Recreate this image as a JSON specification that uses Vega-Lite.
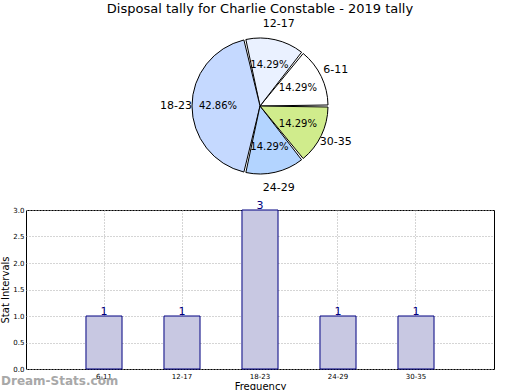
{
  "$schema": "https://vega.github.io/schema/vega-lite/v6.json",
  "padding": {"left": 0, "top": 3, "right": 5, "bottom": 0},
  "background": "white",
  "config": {
    "font": "DejaVu Sans",
    "view": {"stroke": null}
  },
  "datasets": {
    "tally": [
      {"cat": "6-11", "idx": 1, "count": 1},
      {"cat": "12-17", "idx": 2, "count": 1},
      {"cat": "18-23", "idx": 3, "count": 3},
      {"cat": "24-29", "idx": 4, "count": 1},
      {"cat": "30-35", "idx": 5, "count": 1}
    ]
  },
  "spacing": 6,
  "vconcat": [
    {
      "width": 468,
      "height": 164,
      "view": {"stroke": null},
      "title": {"text": "Disposal tally for Charlie Constable - 2019 tally", "fontSize": 13, "fontWeight": "normal", "anchor": "middle", "frame": "group", "offset": 2, "color": "black"},
      "data": {"name": "tally"},
      "transform": [
        {"joinaggregate": [{"op": "sum", "field": "count", "as": "total"}]},
        {"calculate": "format(datum.count / datum.total * 100, '.2f') + '%'", "as": "pct"}
      ],
      "encoding": {
        "theta": {"field": "count", "type": "quantitative", "stack": true, "scale": {"range": [1.5708, 7.854]}},
        "order": {"field": "idx", "type": "quantitative", "sort": "descending"}
      },
      "layer": [
        {
          "mark": {"type": "arc", "outerRadius": 68, "stroke": "black", "strokeWidth": 1, "padAngle": 0.03},
          "encoding": {
            "color": {
              "field": "cat", "type": "nominal", "legend": null,
              "scale": {"domain": ["6-11", "12-17", "18-23", "24-29", "30-35"], "range": ["#ffffff", "#eaf1ff", "#c5d9ff", "#b3d4ff", "#d0ec8c"]}
            }
          }
        },
        {
          "mark": {"type": "text", "radius": 42, "fontSize": 10, "color": "black"},
          "encoding": {"text": {"field": "pct"}}
        },
        {
          "mark": {"type": "text", "radius": 84, "fontSize": 11, "color": "black"},
          "encoding": {"text": {"field": "cat"}}
        }
      ]
    },
    {
      "width": 468,
      "height": 159,
      "view": {"stroke": "black", "strokeWidth": 1},
      "title": {"text": "Dream-Stats.com", "orient": "bottom", "anchor": "start", "frame": "group", "offset": -15, "dx": -25, "fontSize": 12, "fontWeight": "bold", "color": "#a8a8a8"},
      "data": {"name": "tally"},
      "encoding": {
        "x": {
          "field": "cat", "type": "nominal", "sort": null,
          "scale": {"paddingInner": 0.538, "paddingOuter": 0.769},
          "axis": {"title": "Frequency", "titleFontSize": 10, "titleFontWeight": "normal", "titlePadding": 2, "labelAngle": 0, "labelFontSize": 7, "labelPadding": 3, "ticks": false, "domain": false, "grid": true, "gridDash": [1, 2], "gridColor": "#aaaaaa", "bandPosition": 0.5, "labelColor": "black", "titleColor": "black"}
        },
        "y": {
          "field": "count", "type": "quantitative",
          "scale": {"domain": [0, 3]},
          "axis": {"title": "Stat Intervals", "titleFontSize": 10, "titleFontWeight": "normal", "titlePadding": 2, "values": [0, 0.5, 1, 1.5, 2, 2.5, 3], "format": ".1f", "labelFontSize": 7, "labelPadding": 2, "ticks": false, "domain": false, "grid": true, "gridDash": [1, 2], "gridColor": "#aaaaaa", "labelColor": "black", "titleColor": "black"}
        }
      },
      "layer": [
        {"mark": {"type": "bar", "fill": "#c8c8e2", "stroke": "#000080", "strokeWidth": 1}},
        {"mark": {"type": "text", "baseline": "bottom", "dy": 1, "fontSize": 11, "color": "#000080"}, "encoding": {"text": {"field": "count"}}}
      ]
    }
  ]
}
